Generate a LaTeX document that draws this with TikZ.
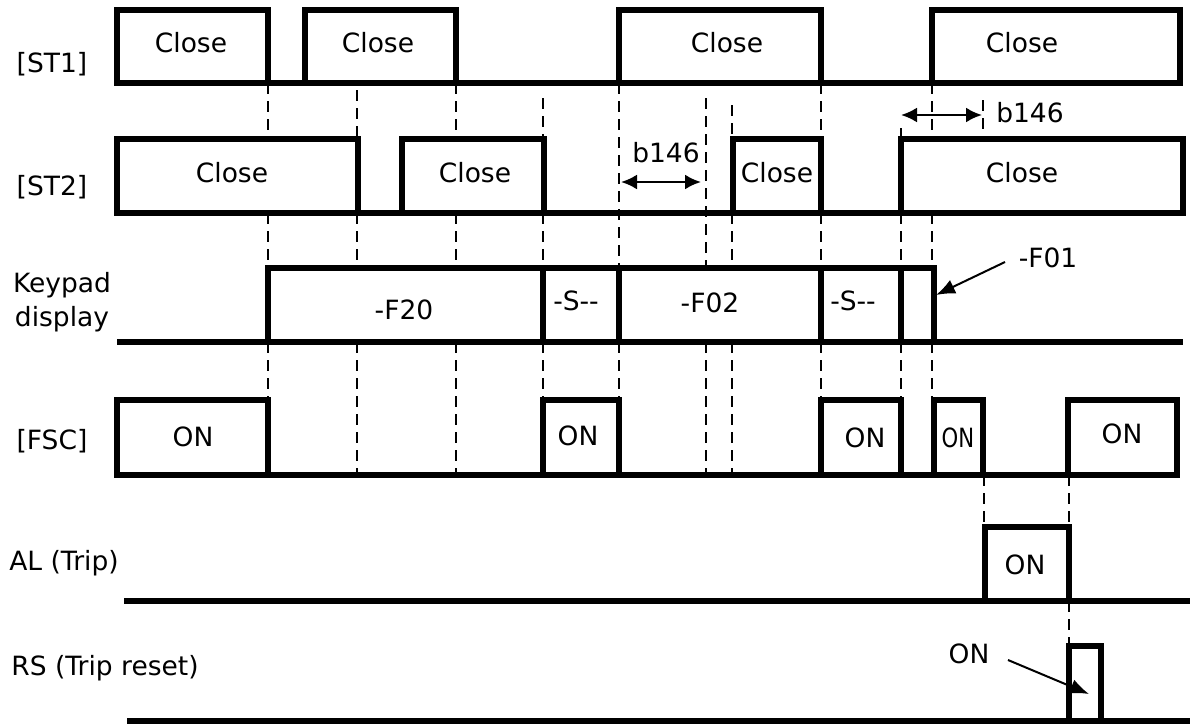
\documentclass[tikz,border=0pt]{standalone}
\usepackage{fontspec}
\setmainfont{DejaVu Sans}
\usetikzlibrary{arrows.meta}
\begin{document}
\begin{tikzpicture}[x=1pt,y=-1pt,
  sig/.style={line width=5.2pt, line join=miter},
  guide/.style={line width=2.4pt, dash pattern=on 11pt off 7pt},
  lbl/.style={font=\fontsize{26.5}{34}\selectfont, inner sep=0pt},
  dim/.style={line width=2.4pt, {Latex[length=16pt,width=15pt]}-{Latex[length=16pt,width=15pt]}},
  pointer/.style={line width=2pt, -{Latex[length=19pt,width=15pt]}}
]
\useasboundingbox (0,0) rectangle (1190,726);

% guide lines
\draw[guide] (268,83)--(268,140) (268,213)--(268,268) (268,342)--(268,400);
\draw[guide] (357,90)--(357,140) (357,213)--(357,268) (357,342)--(357,475);
\draw[guide] (456,83)--(456,140) (456,213)--(456,268) (456,342)--(456,475);
\draw[guide] (543,98)--(543,140) (543,213)--(543,268) (543,342)--(543,400);
\draw[guide] (619,83)--(619,268) (619,342)--(619,400);
\draw[guide] (706,98)--(706,268) (706,342)--(706,475);
\draw[guide] (732,105)--(732,140) (732,213)--(732,268) (732,342)--(732,475);
\draw[guide] (821,83)--(821,140) (821,213)--(821,268) (821,342)--(821,400);
\draw[guide] (901,128)--(901,140) (901,213)--(901,268) (901,342)--(901,400);
\draw[guide] (932,83)--(932,140) (932,213)--(932,268) (932,342)--(932,400);
\draw[guide] (983,100)--(983,130) (984,475)--(984,527);
\draw[guide] (1069,475)--(1069,527) (1069,601)--(1069,646);

% ST1
\draw[sig] (117,83)--(1180,83);
\draw[sig] (117,10) rectangle (268,83);
\draw[sig] (305,10) rectangle (456,83);
\draw[sig] (619,10) rectangle (821,83);
\draw[sig] (932,10) rectangle (1180,83);
% ST2
\draw[sig] (117,213)--(1183,213);
\draw[sig] (117,139) rectangle (358,213);
\draw[sig] (402,139) rectangle (544,213);
\draw[sig] (733,139) rectangle (821,213);
\draw[sig] (901,139) rectangle (1183,213);
% Keypad
\draw[sig] (117,342)--(1183,342);
\draw[sig] (268,268) rectangle (543,342);
\draw[sig] (543,268) rectangle (619,342);
\draw[sig] (619,268) rectangle (821,342);
\draw[sig] (821,268) rectangle (901,342);
\draw[sig] (901,268) rectangle (934,342);
% FSC
\draw[sig] (117,475)--(1177,475);
\draw[sig] (117,400) rectangle (268,475);
\draw[sig] (543,400) rectangle (619,475);
\draw[sig] (821,400) rectangle (901,475);
\draw[sig] (934,400) rectangle (983,475);
\draw[sig] (1068,400) rectangle (1177,475);
% AL
\draw[sig] (124,601)--(1190,601);
\draw[sig] (985,527) rectangle (1069,601);
% RS
\draw[sig] (127,721)--(1190,721);
\draw[sig] (1069,646) rectangle (1101,721);

% row labels
\node[lbl] (lst1) at (52,64) {[ST1]};
\node[lbl] (lst2) at (52,187) {[ST2]};
\node[lbl, align=center] (lkp) at (62,302) {Keypad\\display};
\node[lbl] (lfsc) at (52,441) {[FSC]};
\node[lbl] (lal) at (64,563) {AL (Trip)};
\node[lbl] (lrs) at (105,668) {RS (Trip reset)};

% pulse texts
\node[lbl] (c1) at (191,43) {Close};
\node[lbl] (c2) at (378,43) {Close};
\node[lbl] (c3) at (727,43) {Close};
\node[lbl] (c4) at (1022,43) {Close};
\node[lbl] (d1) at (232,173) {Close};
\node[lbl] (d2) at (475,173) {Close};
\node[lbl] (d3) at (777,173) {Close};
\node[lbl] (d4) at (1022,173) {Close};
\node[lbl] (k1) at (404,310) {-F20};
\node[lbl] (k2) at (576,301) {-S-{}-};
\node[lbl] (k3) at (710,303) {-F02};
\node[lbl] (k4) at (853,301) {-S-{}-};
\node[lbl] (f1) at (193,437) {ON};
\node[lbl] (f2) at (578,436) {ON};
\node[lbl] (f3) at (865,438) {ON};
\node[lbl] (f4) at (958,438) {\scalebox{0.8}[1]{ON}};
\node[lbl] (f5) at (1122,434) {ON};
\node[lbl] (a1) at (1025,565) {ON};

% b146 dimensions
\coordinate (b1l) at (621,182);
\coordinate (b1r) at (701,182);
\draw[dim] (b1l)--(b1r);
\node[lbl] (b1t) at (666,153) {b146};
\coordinate (b2l) at (901,115);
\coordinate (b2r) at (982,115);
\draw[dim] (b2l)--(b2r);
\node[lbl] (b2t) at (1030,113) {b146};

% pointers
\node[lbl] (f01) at (1048,258) {-F01};
\coordinate (f01s) at (1005,262);
\coordinate (f01e) at (936,295);
\draw[pointer] (f01s)--(f01e);
\node[lbl] (rson) at (969,654) {ON};
\coordinate (rss) at (1008,660);
\coordinate (rse) at (1089,694);
\draw[pointer] (rss)--(rse);
\end{tikzpicture}
\end{document}
